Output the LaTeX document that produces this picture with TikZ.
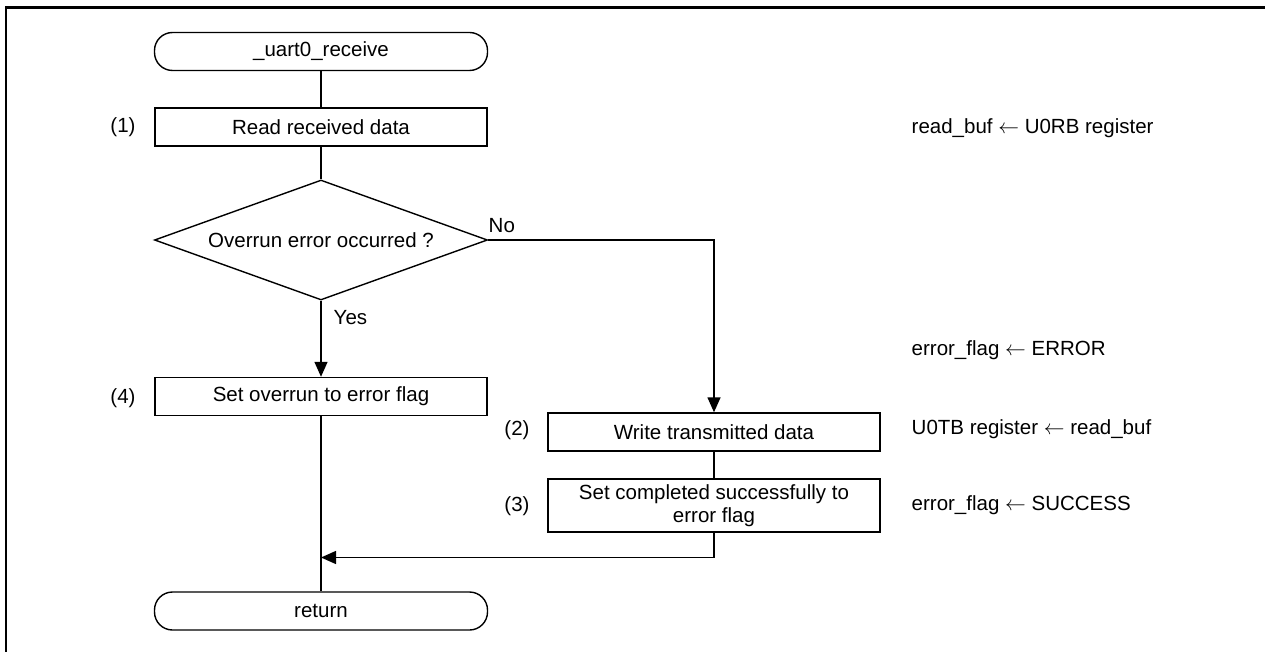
\documentclass[tikz,border=0pt]{standalone}
\usepackage{fontspec}
\setmainfont{Liberation Sans}
\usetikzlibrary{shapes.geometric,arrows.meta}
\begin{document}
\begin{tikzpicture}[x=1pt,y=-1pt,
  font=\fontsize{20.5}{23}\selectfont,
  line width=1.4pt,
  proc/.style={draw, rectangle, minimum width=332pt, minimum height=38pt, inner sep=0pt, align=center},
  term/.style={draw, rectangle, rounded corners=18pt, minimum width=333pt, minimum height=38pt, inner sep=0pt},
  dec/.style={draw, diamond, shape aspect=2.775, minimum width=333pt, minimum height=120pt, inner sep=0pt},
  lbl/.style={inner sep=0pt},
  note/.style={inner sep=0pt, anchor=west},
  arr/.style={-{Triangle[length=15pt,width=13pt]}}]
\useasboundingbox (0,0) rectangle (1265,652);
\fill[white] (0,0) rectangle (1265,652);
% frame
\draw[line width=2.8pt] (6,652) -- (6,7.5) -- (1265,7.5);
% nodes
\node[term] (start) at (321,51.5) {\_uart0\_receive};
\node[proc] (p1) at (321,127) {Read received data};
\node[dec] (d1) at (321,240) {Overrun error occurred ?};
\node[proc] (p4) at (321,396.5) {Set overrun to error flag};
\node[proc] (p2) at (714,432) {Write transmitted data};
\node[proc, minimum height=53pt] (p3) at (714,505.5) {Set completed successfully to\\error flag};
\node[term] (ret) at (321,611) {return};
\coordinate (c1) at (714,240);
\coordinate (c2) at (714,557.5);
\coordinate (c3) at (321,557.5);
% labels
\node[lbl] (l1) at (123,127) {(1)};
\node[lbl] (l4) at (123,398) {(4)};
\node[lbl] (l2) at (517,430) {(2)};
\node[lbl] (l3) at (517,506) {(3)};
\node[lbl, anchor=west] (no) at (488,226) {No};
\node[lbl, anchor=west] (yes) at (333,318) {Yes};
% notes
\node[note] (n1) at (911,128) {read\_buf $\leftarrow$ U0RB register};
\node[note] (n2) at (911,350) {error\_flag $\leftarrow$ ERROR};
\node[note] (n3) at (911,429) {U0TB register $\leftarrow$ read\_buf};
\node[note] (n4) at (911,505) {error\_flag $\leftarrow$ SUCCESS};
% connectors
\draw (start) -- (p1);
\draw (p1) -- (d1);
\draw[arr] (d1.south) -- (p4.north);
\draw[arr] (d1.east) -- (c1) -- (p2.north);
\draw (p2) -- (p3);
\draw[arr] (p3.south) -- (c2) -- (c3);
\draw (p4.south) -- (ret.north);
\end{tikzpicture}
\end{document}
